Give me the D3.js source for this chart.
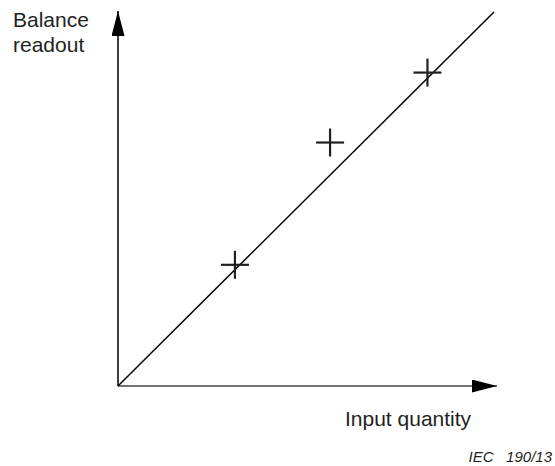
<!DOCTYPE html>
<html>
<head>
<meta charset="utf-8">
<script src="https://cdn.jsdelivr.net/npm/d3@7"></script>
<style>
  body { margin: 0; background: #fff; }
  text { font-family: "Liberation Sans", Arial, sans-serif; fill: #231f20; }
</style>
</head>
<body>
<div id="chart"></div>
<script>
// measured points (arbitrary units, 0..1 on both axes)
const pointX = [0.311, 0.564, 0.823];
const pointY = [0.324, 0.651, 0.838];
// straight calibration line
const lineX = [0, 1];
const lineY = [0, 1];

const width = 555, height = 466;
const origin = {x: 118, y: 386};

const svg = d3.select("#chart").append("svg")
    .attr("width", width)
    .attr("height", height);

const xScale = d3.scaleLinear().domain([0, 1]).range([origin.x, 494]);
const yScale = d3.scaleLinear().domain([0, 1]).range([origin.y, 12]);

// arrow heads
const defs = svg.append("defs");
defs.append("marker")
    .attr("id", "arrow")
    .attr("viewBox", "0 0 25 13")
    .attr("refX", 25)
    .attr("refY", 6.5)
    .attr("markerUnits", "userSpaceOnUse")
    .attr("markerWidth", 25)
    .attr("markerHeight", 13)
    .attr("orient", "auto")
    .append("path")
    .attr("d", "M0,0 L25,6.5 L0,13 Z")
    .attr("fill", "#000");

// axes
svg.append("line")
    .attr("x1", origin.x).attr("y1", origin.y)
    .attr("x2", 497).attr("y2", origin.y)
    .attr("stroke", "#444")
    .attr("stroke-width", 1.5)
    .attr("marker-end", "url(#arrow)");

svg.append("line")
    .attr("x1", origin.x).attr("y1", origin.y)
    .attr("x2", origin.x).attr("y2", 11)
    .attr("stroke", "#000")
    .attr("stroke-width", 1.5)
    .attr("marker-end", "url(#arrow)");

// calibration line
const line = d3.line()
    .x((d, i) => xScale(lineX[i]))
    .y((d, i) => yScale(lineY[i]));

svg.append("path")
    .datum(lineX)
    .attr("d", line)
    .attr("fill", "none")
    .attr("stroke", "#000")
    .attr("stroke-width", 1.5);

// cross markers
const arm = 14;
const crosses = svg.selectAll(".cross")
    .data(pointX)
    .join("g")
    .attr("class", "cross")
    .attr("transform", (d, i) => `translate(${xScale(d)},${yScale(pointY[i])})`);

crosses.append("line")
    .attr("x1", -arm).attr("x2", arm)
    .attr("y1", 0).attr("y2", 0);
crosses.append("line")
    .attr("x1", 0).attr("x2", 0)
    .attr("y1", -arm).attr("y2", arm);
crosses.selectAll("line")
    .attr("stroke", "#231f20")
    .attr("stroke-width", 2.2);

// labels
svg.append("text")
    .attr("x", 13).attr("y", 27)
    .style("font-size", "21px")
    .text("Balance");
svg.append("text")
    .attr("x", 13).attr("y", 52)
    .style("font-size", "21px")
    .text("readout");

svg.append("text")
    .attr("x", 345).attr("y", 426)
    .style("font-size", "21px")
    .text("Input quantity");

svg.append("text")
    .attr("x", 552).attr("y", 462)
    .attr("text-anchor", "end")
    .style("font-size", "15px")
    .style("font-style", "italic")
    .style("white-space", "pre")
    .text("IEC   190/13");
</script>
</body>
</html>
